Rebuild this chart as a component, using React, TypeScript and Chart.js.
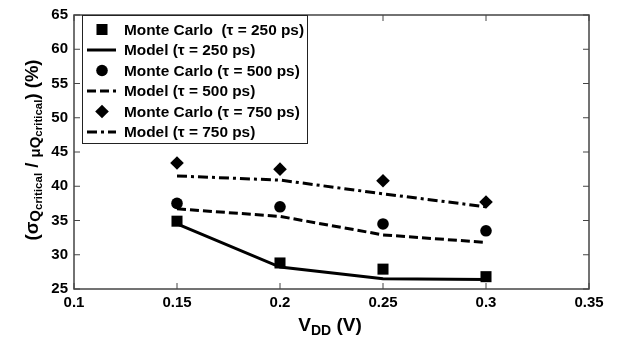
import React, { useEffect, useRef } from "react";
import { Chart, registerables } from "chart.js";

Chart.register(...registerables);

const vdd = [0.15, 0.2, 0.25, 0.3];
const mc250 = [34.9, 28.8, 27.9, 26.8];
const model250 = [34.5, 28.2, 26.5, 26.4];
const mc500 = [37.5, 37.0, 34.5, 33.5];
const model500 = [36.7, 35.6, 32.9, 31.8];
const mc750 = [43.4, 42.5, 40.8, 37.7];
const model750 = [41.5, 40.9, 38.9, 37.0];
const seriesLabels = [
  "Monte Carlo  (\u03c4 = 250 ps)",
  "Model (\u03c4 = 250 ps)",
  "Monte Carlo (\u03c4 = 500 ps)",
  "Model (\u03c4 = 500 ps)",
  "Monte Carlo (\u03c4 = 750 ps)",
  "Model (\u03c4 = 750 ps)",
];
const xTicks = [0.1, 0.15, 0.2, 0.25, 0.3, 0.35];
const yTicks = [25, 30, 35, 40, 45, 50, 55, 60, 65];

const FONT = "'Liberation Sans', Arial, sans-serif";

const pts = (ys: number[]) => vdd.map((x, i) => ({ x, y: ys[i] }));

const decorPlugin = {
  id: "decor",
  afterDraw(chart: any) {
    const { ctx, chartArea: a, scales } = chart;
    const xs = scales.x;
    const ys = scales.y;
    ctx.save();
    // frame
    ctx.strokeStyle = "#444";
    ctx.lineWidth = 1.5;
    ctx.strokeRect(a.left, a.top, a.right - a.left, a.bottom - a.top);
    // inward ticks
    ctx.beginPath();
    const tl = 6;
    xTicks.forEach((v) => {
      const px = xs.getPixelForValue(v);
      ctx.moveTo(px, a.bottom);
      ctx.lineTo(px, a.bottom - tl);
      ctx.moveTo(px, a.top);
      ctx.lineTo(px, a.top + tl);
    });
    yTicks.forEach((v) => {
      const py = ys.getPixelForValue(v);
      ctx.moveTo(a.left, py);
      ctx.lineTo(a.left + tl, py);
      ctx.moveTo(a.right, py);
      ctx.lineTo(a.right - tl, py);
    });
    ctx.lineWidth = 1;
    ctx.stroke();

    // legend
    const lx = 82, ly = 15, lw = 225, lh = 128;
    ctx.fillStyle = "#fff";
    ctx.fillRect(lx, ly, lw, lh);
    ctx.strokeStyle = "#222";
    ctx.lineWidth = 1;
    ctx.strokeRect(lx + 0.5, ly + 0.5, lw, lh);
    const rowY0 = 29.5, rowDy = 20.5;
    chart.data.datasets.forEach((ds: any, i: number) => {
      const cy = rowY0 + i * rowDy;
      const cx = 102;
      ctx.fillStyle = "#000";
      ctx.strokeStyle = "#000";
      if (ds.showLine === false) {
        ctx.beginPath();
        const r = ds.pointRadius;
        if (ds.pointStyle === "rect") {
          const s = r * Math.SQRT1_2;
          ctx.rect(cx - s, cy - s, 2 * s, 2 * s);
        } else if (ds.pointStyle === "rectRot") {
          ctx.moveTo(cx - r, cy);
          ctx.lineTo(cx, cy - r);
          ctx.lineTo(cx + r, cy);
          ctx.lineTo(cx, cy + r);
          ctx.closePath();
        } else {
          ctx.arc(cx, cy, r, 0, Math.PI * 2);
        }
        ctx.fill();
      } else {
        ctx.beginPath();
        ctx.lineWidth = ds.borderWidth;
        ctx.setLineDash(ds.borderDash || []);
        ctx.moveTo(87, cy);
        ctx.lineTo(116, cy);
        ctx.stroke();
        ctx.setLineDash([]);
      }
      ctx.font = `bold 15.4px ${FONT}`;
      ctx.textBaseline = "middle";
      ctx.textAlign = "left";
      ctx.fillText(ds.label, 124, cy + 1);
    });

    // axis titles
    const drawRuns = (runs: [string, number, number][]) => {
      let total = 0;
      runs.forEach(([t, s]) => {
        ctx.font = `bold ${s}px ${FONT}`;
        total += ctx.measureText(t).width;
      });
      let x = -total / 2;
      runs.forEach(([t, s, dy]) => {
        ctx.font = `bold ${s}px ${FONT}`;
        ctx.fillText(t, x, dy);
        x += ctx.measureText(t).width;
      });
    };
    ctx.fillStyle = "#000";
    ctx.textBaseline = "alphabetic";
    ctx.textAlign = "left";
    // y title
    ctx.save();
    ctx.translate(38, 150);
    ctx.rotate(-Math.PI / 2);
    drawRuns([
      ["(\u03c3", 18.5, 0],
      ["Q", 15, 2],
      ["critical", 11.5, 4],
      [" / ", 18.5, 0],
      ["\u03bcQ", 15, 2],
      ["critical", 11.5, 4],
      [") (%)", 18.5, 0],
    ]);
    ctx.restore();
    // x title
    ctx.save();
    ctx.translate(330, 331);
    drawRuns([
      ["V", 19, 0],
      ["DD", 14, 4],
      [" (V)", 19, 0],
    ]);
    ctx.restore();
    ctx.restore();
  },
};

export default function App() {
  const ref = useRef<HTMLCanvasElement | null>(null);
  useEffect(() => {
    if (!ref.current) return;
    const chart = new Chart(ref.current, {
      type: "scatter",
      data: {
        datasets: [
          { label: seriesLabels[0], data: pts(mc250), showLine: false, pointStyle: "rect", pointRadius: 7.8, backgroundColor: "#000", borderWidth: 0 },
          { label: seriesLabels[1], data: pts(model250), showLine: true, pointRadius: 0, borderColor: "#000", borderWidth: 3 },
          { label: seriesLabels[2], data: pts(mc500), showLine: false, pointStyle: "circle", pointRadius: 5.8, backgroundColor: "#000", borderWidth: 0 },
          { label: seriesLabels[3], data: pts(model500), showLine: true, pointRadius: 0, borderColor: "#000", borderWidth: 3, borderDash: [9, 4] },
          { label: seriesLabels[4], data: pts(mc750), showLine: false, pointStyle: "rectRot", pointRadius: 6.8, backgroundColor: "#000", borderWidth: 0 },
          { label: seriesLabels[5], data: pts(model750), showLine: true, pointRadius: 0, borderColor: "#000", borderWidth: 3, borderDash: [10, 4, 3, 4] },
        ] as any,
      },
      options: {
        animation: false,
        responsive: true,
        maintainAspectRatio: false,
        layout: { padding: { left: 0, top: 11, right: 29, bottom: 0 } },
        plugins: { legend: { display: false }, tooltip: { enabled: false } },
        scales: {
          x: {
            type: "linear",
            min: 0.1,
            max: 0.35,
            afterBuildTicks: (s: any) => { s.ticks = xTicks.map((v) => ({ value: v })); },
            afterFit: (s: any) => { s.height = 54; },
            grid: { display: false, drawTicks: false },
            border: { display: false },
            ticks: {
              color: "#000",
              padding: 5,
              font: { family: FONT, size: 15, weight: "bold" },
              callback: (v: any) => String(Number(Number(v).toFixed(2))),
            },
          },
          y: {
            type: "linear",
            min: 25,
            max: 65,
            afterBuildTicks: (s: any) => { s.ticks = yTicks.map((v) => ({ value: v })); },
            afterFit: (s: any) => { s.width = 74; },
            grid: { display: false, drawTicks: false },
            border: { display: false },
            ticks: {
              color: "#000",
              padding: 6,
              font: { family: FONT, size: 15, weight: "bold" },
              callback: (v: any) => String(v),
            },
          },
        },
      } as any,
      plugins: [decorPlugin],
    });
    return () => chart.destroy();
  }, []);
  return (
    <div style={{ position: "absolute", left: 0, top: 0, width: 618, height: 343, background: "#fff" }}>
      <canvas ref={ref} />
    </div>
  );
}
